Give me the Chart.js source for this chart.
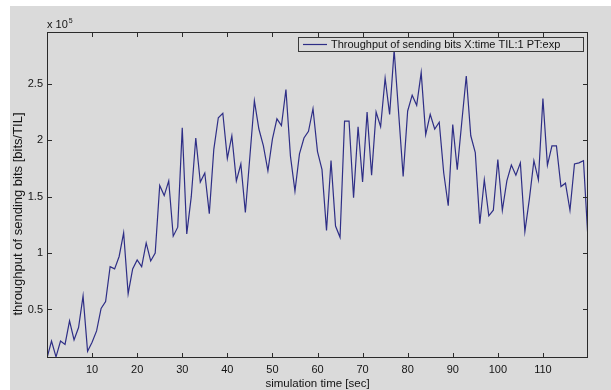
<!DOCTYPE html>
<html>
<head>
<meta charset="utf-8">
<script src="https://cdn.jsdelivr.net/npm/chart.js@4.4.1/dist/chart.umd.min.js"></script>
<style>
  html, body { margin: 0; padding: 0; background: #fff; }
  canvas { display: block; }
</style>
</head>
<body>
<canvas id="grafico" width="611" height="390"></canvas>
<script>
// tempo de simulacao [sec] (vertices)
const times = [
  0, 1, 2, 3, 4, 5, 6, 7, 8, 9,
  10, 11, 12, 13, 14, 15, 16, 17, 18, 19,
  20, 21, 22, 23, 24, 25, 26, 27, 28, 29,
  30, 31, 32, 33, 34, 35, 36, 37, 38, 39,
  40, 41, 42, 43, 44, 46, 47, 48, 49,
  50, 51, 52, 53, 54, 55, 56, 57, 58, 59,
  60, 61, 62, 63, 64, 65, 66, 67, 68, 69,
  70, 71, 72, 73, 74, 75, 76, 77, 79,
  80, 81, 82, 83, 84, 85, 86, 87, 88, 89,
  90, 91, 92, 93, 94, 95, 96, 97, 98, 99,
  100, 101, 102, 103, 104, 105, 106, 107, 108, 109,
  110, 111, 112, 113, 114, 115, 116, 117, 118, 119, 120,
];

// throughput [bits/TIL]
const throughput = [
  7000, 22000, 8000, 22000, 19000, 40000, 23000, 34000, 62000, 13000,
  21000, 31000, 51000, 57000, 88000, 86000, 97000, 118000, 64000, 86000,
  94000, 88000, 109000, 93000, 100000, 160000, 151000, 164000, 115000, 123000,
  211000, 117000, 150000, 202000, 163000, 171000, 135000, 192000, 220000, 224000,
  184000, 204000, 164000, 179000, 136000, 235000, 210000, 195000, 173000,
  201000, 219000, 213000, 245000, 186000, 155000, 188000, 202000, 208000, 228000,
  190000, 174000, 120000, 182000, 124000, 114000, 217000, 217000, 149000, 212000,
  163000, 225000, 169000, 225000, 212000, 255000, 223000, 280000, 168000,
  226000, 240000, 231000, 260000, 205000, 223000, 210000, 216000, 171000, 142000,
  214000, 174000, 216000, 257000, 204000, 189000, 126000, 165000, 133000, 138000,
  183000, 138000, 164000, 178000, 169000, 180000, 119000, 148000, 182000, 165000,
  237000, 178000, 195000, 195000, 159000, 162000, 138000, 179000, 180000, 182000, 112000,
];

const xTicks = [10, 20, 30, 40, 50, 60, 70, 80, 90, 100, 110];
const yTicks = [50000, 100000, 150000, 200000, 250000];

const serieLabel = "Throughput of sending bits X:time TIL:1 PT:exp";
const yTitle = "throughput of sending bits [bits/TIL]";
const xTitle = "simulation time [sec]";

const FONTE = "'Liberation Sans', Arial, sans-serif";
const COR_TEXTO = "#141414";
const COR_EIXO = "#2a2a2a";
const COR_LINHA = "#2e2e86";
const COR_FUNDO = "#dadada";

// moldura estilo matlab: fundo, caixa, ticks para dentro, legenda
const molduraPlugin = {
  id: "moldura",
  beforeDraw(chart) {
    const ctx = chart.ctx;
    ctx.save();
    ctx.fillStyle = "#ffffff";
    ctx.fillRect(0, 0, chart.width, chart.height);
    ctx.fillStyle = COR_FUNDO;
    ctx.fillRect(10, 6, chart.width - 10, chart.height - 6);
    ctx.restore();
  },
  afterDraw(chart) {
    const ctx = chart.ctx;
    const a = chart.chartArea;
    const sx = chart.scales.x;
    const sy = chart.scales.y;
    const tick = 5;

    ctx.save();
    ctx.strokeStyle = COR_EIXO;
    ctx.lineWidth = 1;
    ctx.strokeRect(a.left + 0.5, a.top + 0.5, a.right - a.left - 1, a.bottom - a.top - 1);

    ctx.beginPath();
    xTicks.forEach((v) => {
      const px = Math.round(sx.getPixelForValue(v)) + 0.5;
      ctx.moveTo(px, a.bottom);
      ctx.lineTo(px, a.bottom - tick);
      ctx.moveTo(px, a.top);
      ctx.lineTo(px, a.top + tick);
    });
    yTicks.forEach((v) => {
      const py = Math.round(sy.getPixelForValue(v)) + 0.5;
      ctx.moveTo(a.left, py);
      ctx.lineTo(a.left + tick, py);
      ctx.moveTo(a.right, py);
      ctx.lineTo(a.right - tick, py);
    });
    ctx.stroke();

    // titulo do eixo y
    ctx.fillStyle = COR_TEXTO;
    ctx.font = "13px " + FONTE;
    ctx.save();
    ctx.translate(18, 214);
    ctx.rotate(-Math.PI / 2);
    ctx.textAlign = "center";
    ctx.textBaseline = "middle";
    ctx.fillText(yTitle, 0, 0);
    ctx.restore();

    // expoente x 10^5
    ctx.textAlign = "left";
    ctx.textBaseline = "alphabetic";
    ctx.font = "11px " + FONTE;
    ctx.fillText("x 10", a.left, a.top - 4);
    const w = ctx.measureText("x 10").width;
    ctx.font = "7px " + FONTE;
    ctx.fillText("5", a.left + w + 1, a.top - 9);

    // legenda
    const lx = 298, ly = 37, lw = 285, lh = 14;
    ctx.fillStyle = COR_FUNDO;
    ctx.fillRect(lx, ly, lw, lh);
    ctx.strokeStyle = "#3a3a3a";
    ctx.strokeRect(lx + 0.5, ly + 0.5, lw, lh);
    ctx.strokeStyle = COR_LINHA;
    ctx.lineWidth = 1.2;
    ctx.beginPath();
    ctx.moveTo(lx + 5, ly + lh / 2 + 0.5);
    ctx.lineTo(lx + 29, ly + lh / 2 + 0.5);
    ctx.stroke();
    ctx.fillStyle = COR_TEXTO;
    ctx.font = "11px " + FONTE;
    ctx.textBaseline = "middle";
    const label = chart.data.datasets[0].label;
    const tw = ctx.measureText(label).width;
    const escala = Math.min(1, 243 / tw);
    ctx.save();
    ctx.translate(lx + 33, ly + lh / 2 + 1);
    ctx.scale(escala, 1);
    ctx.fillText(label, 0, 0);
    ctx.restore();
    ctx.restore();
  },
};

const ctxGrafico = document.getElementById("grafico").getContext("2d");

new Chart(ctxGrafico, {
  type: "scatter",
  data: {
    datasets: [
      {
        label: serieLabel,
        data: times.map((t, i) => ({ x: t, y: throughput[i] })),
        showLine: true,
        borderColor: COR_LINHA,
        borderWidth: 1.2,
        pointRadius: 0,
        tension: 0,
      },
    ],
  },
  options: {
    responsive: false,
    animation: false,
    devicePixelRatio: 1,
    layout: {
      padding: { left: 0, top: 32, right: 23, bottom: 0 },
    },
    plugins: {
      legend: { display: false },
      tooltip: { enabled: false },
    },
    scales: {
      x: {
        type: "linear",
        position: "bottom",
        min: 0,
        max: 120,
        grid: { display: false, drawTicks: false },
        border: { display: false },
        afterBuildTicks: (axis) => {
          axis.ticks = xTicks.map((v) => ({ value: v }));
        },
        afterFit: (axis) => {
          axis.height = 32;
        },
        ticks: {
          color: COR_TEXTO,
          font: { family: FONTE, size: 11 },
          padding: 5,
          maxRotation: 0,
          autoSkip: false,
        },
        title: {
          display: true,
          text: xTitle,
          color: COR_TEXTO,
          font: { family: FONTE, size: 11.5 },
          padding: { top: 0, bottom: -1 },
        },
      },
      y: {
        type: "linear",
        position: "left",
        min: 7000,
        max: 296000,
        grid: { display: false, drawTicks: false },
        border: { display: false },
        afterBuildTicks: (axis) => {
          axis.ticks = yTicks.map((v) => ({ value: v }));
        },
        afterFit: (axis) => {
          axis.width = 47;
        },
        ticks: {
          color: COR_TEXTO,
          font: { family: FONTE, size: 11 },
          padding: 4,
          callback: (v) => String(v / 100000),
        },
      },
    },
  },
  plugins: [molduraPlugin],
});
</script>
</body>
</html>
